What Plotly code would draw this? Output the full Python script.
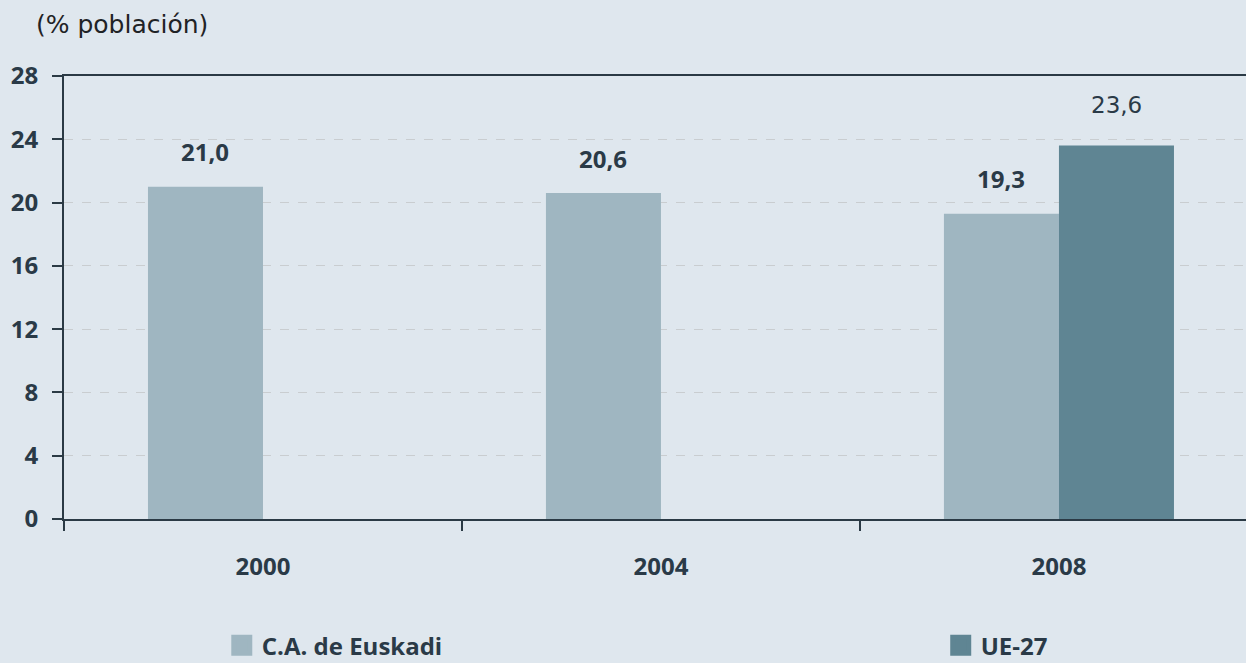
import plotly.graph_objects as go

years = ["2000", "2004", "2008"]
euskadi = [21.0, 20.6, 19.3]
ue27 = [None, None, 23.6]
euskadi_labels = ["21,0", "20,6", "19,3"]
ue27_labels = [None, None, "23,6"]
y_ticks = [0, 4, 8, 12, 16, 20, 24, 28]

TXT = "#2a3a47"
BG = "#dfe7ee"
C1 = "#9fb6c1"
C2 = "#5f8593"
BOLD = dict(size=24, color=TXT, family="Open Sans", weight="bold")

fig = go.Figure()
fig.add_trace(go.Bar(x=years, y=euskadi, name="C.A. de Euskadi", showlegend=False,
                     marker=dict(color=C1, line=dict(width=0))))
fig.add_trace(go.Bar(x=years, y=ue27, name="UE-27", showlegend=False,
                     marker=dict(color=C2, line=dict(width=0))))

# legend placeholders with large square symbols, each in its own legend
fig.add_trace(go.Scatter(x=[None], y=[None], mode="markers", name="C.A. de Euskadi",
                         marker=dict(symbol="square", size=16, color=C1,
                                     line=dict(color=C1, width=5)), legend="legend"))
fig.add_trace(go.Scatter(x=[None], y=[None], mode="markers", name="UE-27",
                         marker=dict(symbol="square", size=16, color=C2,
                                     line=dict(color=C2, width=5)), legend="legend2"))

# value labels (x as category index)
for i, (v, t) in enumerate(zip(euskadi, euskadi_labels)):
    fig.add_annotation(x=i, y=v, text=t, showarrow=False,
                       xshift=-57.5, yshift=35, font=BOLD)
for i, (v, t) in enumerate(zip(ue27, ue27_labels)):
    if v is None:
        continue
    fig.add_annotation(x=i, y=v, text=t, showarrow=False, xshift=57.5, yshift=41,
                       font=dict(size=23, color=TXT, family="DejaVu Sans"))

fig.add_annotation(xref="paper", yref="paper", x=-0.0255, y=1.117, xanchor="left",
                   yanchor="middle", text="(% población)", showarrow=False,
                   font=dict(size=25, color="#1f2326", family="DejaVu Sans"))

legend_common = dict(orientation="h", yref="container", yanchor="middle", y=0.026,
                     xref="container", xanchor="left",
                     itemsizing="trace", itemwidth=30,
                     font=BOLD, bgcolor="rgba(0,0,0,0)")
fig.update_layout(
    width=1246, height=663,
    margin=dict(l=64, r=0, t=76, b=144, autoexpand=False),
    paper_bgcolor=BG, plot_bgcolor=BG,
    barmode="group", bargap=0.422, bargroupgap=0,
    font=dict(family="Open Sans", color=TXT),
    showlegend=True,
    legend=dict(x=0.178, **legend_common),
    legend2=dict(x=0.755, **legend_common),
)
fig.update_xaxes(
    type="category", range=[-0.5, 2.47],
    showline=True, linecolor="#2b3a45", linewidth=2, mirror=True,
    ticks="outside", tickson="boundaries", ticklen=10, tickcolor="#2b3a45", tickwidth=2,
    ticklabelstandoff=25,
    tickfont=BOLD,
    showgrid=False,
)
fig.update_yaxes(
    range=[0, 28], tickvals=y_ticks,
    showline=True, linecolor="#2b3a45", linewidth=2,
    ticks="outside", ticklen=10, tickcolor="#2b3a45", tickwidth=2,
    ticklabelstandoff=9,
    tickfont=BOLD,
    showgrid=True, gridcolor="#c9cdd0", griddash="dash", gridwidth=1,
    zeroline=False,
)
fig.write_html("out.html", config={"displayModeBar": False},
               post_script="document.body.style.margin='0';")
